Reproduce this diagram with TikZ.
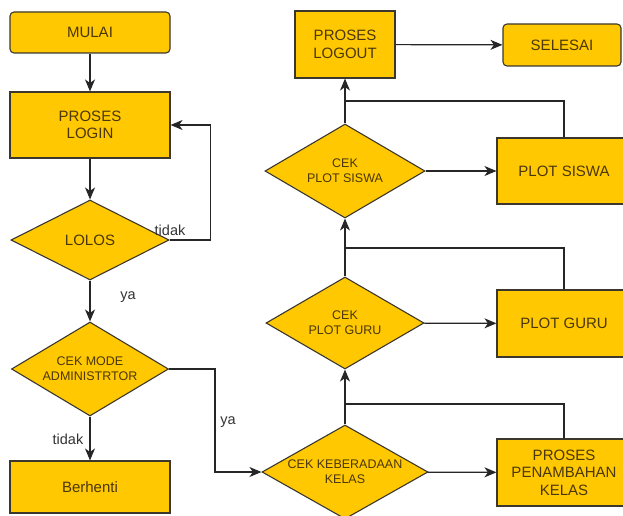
\documentclass[tikz,border=0pt]{standalone}
\usepackage{fontspec}
\setmainfont{Liberation Sans}
\usetikzlibrary{shapes.geometric,arrows.meta}
\definecolor{gold}{RGB}{255,200,0}
\definecolor{edgec}{RGB}{60,55,45}
\definecolor{txt}{RGB}{75,55,10}
\begin{document}
\begin{tikzpicture}[x=1pt,y=-1pt,
  box/.style={draw=edgec,fill=gold,line width=1.1pt,inner sep=0pt,align=center,text=txt,
    font=\fontsize{15}{17.5}\selectfont},
  term/.style={box,rounded corners=4pt},
  dec/.style={diamond,draw=edgec,fill=gold,line width=1.1pt,inner sep=0pt},
  dtxt/.style={align=center,text=txt,inner sep=0pt,font=\fontsize{12.5}{15}\selectfont},
  conn/.style={line width=1.2pt,draw=black!85},
  arr/.style={conn,-{Stealth[length=12pt,width=10pt,inset=3.5pt]}},
  lbl/.style={font=\fontsize{14.5}{16}\selectfont,text=black!80,inner sep=0pt}]
\useasboundingbox (0,0) rectangle (623,516);

% left column
\node[term,minimum width=160pt,minimum height=41pt] (mulai) at (90,32.5) {MULAI};
\node[box,minimum width=160pt,minimum height=66pt] (login) at (90,125) {PROSES\\LOGIN};
\node[dec,minimum width=158pt,minimum height=80pt,
  label={[dtxt,font=\fontsize{15}{18}\selectfont]center:LOLOS}] (lolos) at (90,240) {};
\node[dec,minimum width=157pt,minimum height=94pt,
  label={[dtxt]center:{CEK MODE\\ADMINISTRTOR}}] (mode) at (90,369) {};
\node[box,minimum width=160pt,minimum height=52pt] (stop) at (90,487) {Berhenti};

% right column
\node[box,minimum width=100pt,minimum height=67pt] (logout) at (345,44.5) {PROSES\\LOGOUT};
\node[term,minimum width=118pt,minimum height=42pt] (selesai) at (562,45) {SELESAI};
\node[dec,minimum width=160pt,minimum height=94pt,
  label={[dtxt]center:{CEK\\PLOT SISWA}}] (dsiswa) at (345,171) {};
\node[box,minimum width=134pt,minimum height=66pt] (siswa) at (564,171) {PLOT SISWA};
\node[dec,minimum width=158pt,minimum height=92pt,
  label={[dtxt]center:{CEK\\PLOT GURU}}] (dguru) at (345,323) {};
\node[box,minimum width=134pt,minimum height=67pt] (guru) at (564,323.5) {PLOT GURU};
\node[dec,minimum width=166pt,minimum height=94pt,
  label={[dtxt]center:{CEK KEBERADAAN\\KELAS}}] (kelas) at (345,472) {};
\node[box,minimum width=134pt,minimum height=67pt] (tambah) at (564,472.5) {PROSES\\PENAMBAHAN\\KELAS};

% junction points
\coordinate (j1) at (345,404);
\coordinate (j2) at (345,248);
\coordinate (j3) at (345,101);

% connectors
\draw[arr] (mulai) -- (login);
\draw[arr] (login) -- (lolos);
\draw[arr] (lolos.east) -- ++(41,0) |- (login.east);
\draw[arr] (lolos) -- (mode);
\draw[arr] (mode) -- (stop);
\draw[arr] (mode.east) -- ++(46,0) |- (kelas.west);
\draw[arr] (kelas) -- (tambah);
\draw[arr] (kelas) -- (dguru);
\draw[conn] (tambah.north) |- (j1);
\draw[arr] (dguru) -- (guru);
\draw[arr] (dguru) -- (dsiswa);
\draw[conn] (guru.north) |- (j2);
\draw[arr] (dsiswa) -- (siswa);
\draw[arr] (dsiswa) -- (logout);
\draw[conn] (siswa.north) |- (j3);
\draw[arr] (logout) -- (selesai);

% labels
\node[lbl] (t1) at (170,230) {tidak};
\node[lbl] (y1) at (128,297) {ya};
\node[lbl] (t2) at (68,439) {tidak};
\node[lbl] (y2) at (228,422) {ya};
\end{tikzpicture}
\end{document}
